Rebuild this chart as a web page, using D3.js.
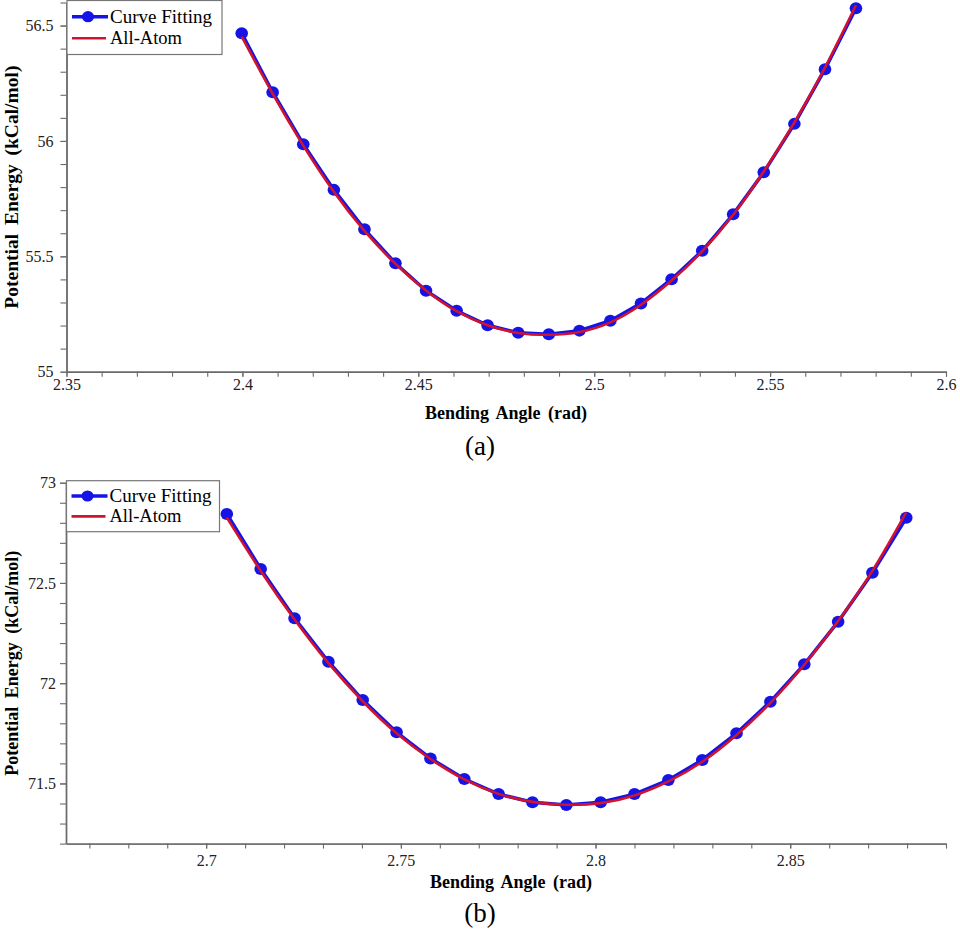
<!DOCTYPE html>
<html lang="en">
  <head>
    <meta charset="UTF-8" />
    <title>Potential Energy vs Bending Angle</title>
    <script src="https://d3js.org/d3.v7.min.js"></script>
    <style>
      body { margin: 0; background: #fff; }
    </style>
  </head>
  <body>
    <svg width="960" height="934" id="chart" font-family="'Liberation Serif', 'Times New Roman', serif"></svg>

    <script>
      // ---- data: panel (a) ----
      const angleA = [2.3998, 2.4086, 2.4173, 2.4260, 2.4347, 2.4435, 2.4522, 2.4609, 2.4697, 2.4784, 2.4871,
                      2.4958, 2.5046, 2.5133, 2.5220, 2.5307, 2.5395, 2.5482, 2.5569, 2.5656, 2.5744];
      const fitA = [56.467, 56.211, 55.986, 55.788, 55.617, 55.470, 55.351, 55.264, 55.201, 55.169, 55.162,
                    55.178, 55.221, 55.296, 55.401, 55.524, 55.682, 55.864, 56.074, 56.311, 56.575];
      const atomA = [56.452, 56.205, 55.980, 55.780, 55.610, 55.468, 55.352, 55.262, 55.201, 55.168, 55.160,
                     55.172, 55.214, 55.290, 55.395, 55.522, 55.680, 55.868, 56.080, 56.318, 56.588];
      const xTicksA = [2.35, 2.4, 2.45, 2.5, 2.55, 2.6];
      const yTicksA = [55, 55.5, 56, 56.5];

      // ---- data: panel (b) ----
      const angleB = [2.7053, 2.7140, 2.7227, 2.7314, 2.7402, 2.7489, 2.7576, 2.7663, 2.7751, 2.7838, 2.7925,
                      2.8013, 2.8100, 2.8187, 2.8274, 2.8362, 2.8449, 2.8536, 2.8623, 2.8711, 2.8798];
      const fitB = [72.844, 72.570, 72.324, 72.107, 71.916, 71.755, 71.625, 71.522, 71.447, 71.406, 71.393,
                    71.406, 71.447, 71.517, 71.617, 71.750, 71.908, 72.094, 72.307, 72.551, 72.825];
      const atomB = [72.826, 72.560, 72.318, 72.100, 71.910, 71.750, 71.622, 71.520, 71.448, 71.408, 71.394,
                     71.402, 71.440, 71.510, 71.608, 71.742, 71.902, 72.092, 72.310, 72.560, 72.852];
      const xTicksB = [2.7, 2.75, 2.8, 2.85];
      const yTicksB = [71.5, 72, 72.5, 73];

      const seriesNames = ["Curve Fitting", "All-Atom"];
      const panelLabels = ["(a)", "(b)"];
      const xTitle = "Bending Angle (rad)";
      const yTitle = "Potential Energy (kCal/mol)";

      const serif = "'Liberation Serif', 'Times New Roman', serif";
      const blue = "#1414e6";
      const red = "#d2132e";
      const axisColor = "#6a6a6a";

      const svg = d3.select("#chart");

      const panels = [
        {
          angle: angleA, fit: fitA, atom: atomA, xTicks: xTicksA, yTicks: yTicksA, label: panelLabels[0],
          xDomain: [2.35, 2.6], yDomain: [55, 56.6], left: 66.5, right: 946, top: 2.5, bottom: 371.7,
          xMinor: 25, yMinor: 16, xPad: 2, yPad: 7, yTitleSize: 19.5, titleX: 506, titleY: 419, tagY: 455,
          legendW: 155, legendH: 54
        },
        {
          angle: angleB, fit: fitB, atom: atomB, xTicks: xTicksB, yTicks: yTicksB, label: panelLabels[1],
          xDomain: [2.664, 2.89], yDomain: [71.2, 73], left: 66, right: 946, top: 482.7, bottom: 843.6,
          xMinor: 23, yMinor: 18, xPad: 6, yPad: 4, yTitleSize: 18, titleX: 511, titleY: 888, tagY: 922,
          legendW: 153, legendH: 51
        }
      ];

      function styleAxis(sel) {
        sel.attr("font-family", serif);
        sel.select(".domain").attr("stroke", axisColor).attr("stroke-width", 1.4);
        sel.selectAll(".tick line").attr("stroke", axisColor).attr("stroke-width", 1.1);
        sel.selectAll(".tick text")
          .attr("font-size", 16)
          .attr("font-family", serif)
          .attr("fill", "#222");
      }

      panels.forEach((p) => {
        const x = d3.scaleLinear().domain(p.xDomain).range([p.left, p.right]);
        const y = d3.scaleLinear().domain(p.yDomain).range([p.bottom, p.top]);
        const g = svg.append("g");

        // minor ticks
        g.append("g")
          .attr("transform", "translate(0," + p.bottom + ")")
          .call(d3.axisBottom(x).tickValues(x.ticks(p.xMinor)).tickSize(5).tickSizeOuter(0).tickFormat(""))
          .call(styleAxis);
        g.append("g")
          .attr("transform", "translate(" + p.left + ",0)")
          .call(d3.axisLeft(y).tickValues(y.ticks(p.yMinor)).tickSize(6).tickSizeOuter(0).tickFormat(""))
          .call(styleAxis);

        // labelled ticks
        g.append("g")
          .attr("transform", "translate(0," + p.bottom + ")")
          .call(d3.axisBottom(x).tickValues(p.xTicks).tickSize(5).tickSizeOuter(0)
            .tickPadding(p.xPad).tickFormat(d3.format("~g")))
          .call(styleAxis);
        g.append("g")
          .attr("transform", "translate(" + p.left + ",0)")
          .call(d3.axisLeft(y).tickValues(p.yTicks).tickSize(6).tickSizeOuter(0)
            .tickPadding(p.yPad).tickFormat(d3.format("~g")))
          .call(styleAxis);

        const pts = p.angle.map((a, i) => [a, p.fit[i]]);
        const atomPts = p.angle.map((a, i) => [a, p.atom[i]]);

        // curve fitting: blue line + dots
        g.append("path")
          .datum(pts)
          .attr("fill", "none")
          .attr("stroke", blue)
          .attr("stroke-width", 3.5)
          .attr("d", d3.line().x((d) => x(d[0])).y((d) => y(d[1])));
        g.selectAll(".dot")
          .data(pts)
          .join("ellipse")
          .attr("cx", (d) => x(d[0]))
          .attr("cy", (d) => y(d[1]))
          .attr("rx", 6.3)
          .attr("ry", 6)
          .attr("fill", blue);

        // all-atom: red smooth line on top
        g.append("path")
          .datum(atomPts)
          .attr("fill", "none")
          .attr("stroke", red)
          .attr("stroke-width", 2.6)
          .attr("d", d3.line().curve(d3.curveNatural).x((d) => x(d[0])).y((d) => y(d[1])));

        // axis titles
        g.append("text")
          .attr("x", p.titleX)
          .attr("y", p.titleY)
          .attr("text-anchor", "middle")
          .attr("font-size", 18)
          .attr("font-weight", "bold")
          .attr("word-spacing", 3)
          .text(xTitle);
        g.append("text")
          .attr("transform", "translate(18," + (p.top + p.bottom) / 2 + ") rotate(-90)")
          .attr("text-anchor", "middle")
          .attr("font-size", p.yTitleSize)
          .attr("font-weight", "bold")
          .attr("word-spacing", 4)
          .text(yTitle);

        // panel tag
        g.append("text")
          .attr("x", 480)
          .attr("y", p.tagY)
          .attr("text-anchor", "middle")
          .attr("font-size", 27)
          .text(p.label);

        // legend
        const lg = g.append("g").attr("transform", "translate(" + (p.left + 0.5) + "," + (p.top - 2) + ")");
        lg.append("rect")
          .attr("width", p.legendW)
          .attr("height", p.legendH)
          .attr("fill", "#fff")
          .attr("stroke", "#777")
          .attr("stroke-width", 1.2);
        const rowY = [p.legendH * 0.3, p.legendH * 0.7];
        lg.append("line")
          .attr("x1", 5).attr("x2", 41).attr("y1", rowY[0]).attr("y2", rowY[0])
          .attr("stroke", blue).attr("stroke-width", 3.5);
        lg.append("ellipse")
          .attr("cx", 21).attr("cy", rowY[0]).attr("rx", 6).attr("ry", 5.6).attr("fill", blue);
        lg.append("line")
          .attr("x1", 5).attr("x2", 39).attr("y1", rowY[1]).attr("y2", rowY[1])
          .attr("stroke", red).attr("stroke-width", 2.6);
        seriesNames.forEach((name, i) => {
          lg.append("text")
            .attr("x", 43)
            .attr("y", rowY[i] + 6)
            .attr("font-size", 19)
            .attr("textLength", i === 0 ? 102 : 72)
            .attr("lengthAdjust", "spacingAndGlyphs")
            .text(name);
        });
      });
    </script>
  </body>
</html>
